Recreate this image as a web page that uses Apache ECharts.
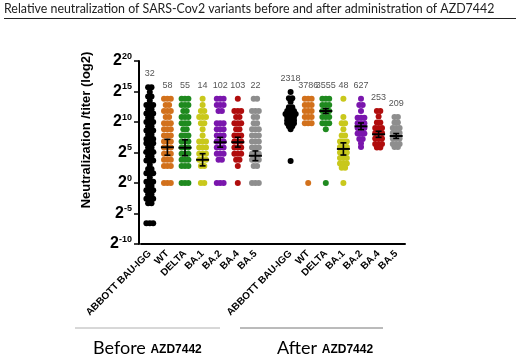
<!DOCTYPE html>
<html>
<head>
<meta charset="utf-8">
<script src="https://cdn.jsdelivr.net/npm/echarts@6/dist/echarts.min.js"></script>
<style>
  html, body { margin: 0; padding: 0; background: #fff; }
  #chart { width: 520px; height: 355px; }
</style>
</head>
<body>
<div id="chart"></div>
<script>
// categories (index 7 is the empty gap between groups)
const categories = ['ABBOTT BAU-IGG', 'WT', 'DELTA', 'BA.1', 'BA.2', 'BA.4', 'BA.5', '',
    'ABBOTT BAU-IGG', 'WT', 'DELTA', 'BA.1', 'BA.2', 'BA.4', 'BA.5'];

// geometric mean titers shown above each column
const gmtLabels = [32, 58, 55, 14, 102, 103, 22, null, 2318, 3786, 3555, 48, 627, 253, 209];
// half-height of error bars (log2 units)
const semValues = [1.0, 1.3, 1.3, 1.0, 0.8, 0.8, 0.8, null, 0.5, null, 0.4, 1.0, 0.55, 0.5, 0.4];

// dots per column: [log2 level, number of dots at that level]
const beforeAbbott = [[15.7, 2], [14.9, 1], [14.2, 2], [13.5, 1], [12.8, 3], [12.1, 2], [11.4, 3], [10.7, 2],
    [10, 3], [9.3, 2], [8.6, 3], [7.9, 2], [7.2, 3], [6.5, 3], [5.8, 2], [5.1, 3], [4.4, 2], [3.7, 3], [3, 1],
    [2.3, 2], [1.6, 3], [0.9, 1], [0.2, 3], [-0.5, 2], [-1.2, 3], [-1.9, 2], [-2.6, 3], [-3.3, 2], [-6.6, 3]];
const beforeWT = [[13.8, 3], [12.8, 2], [11.8, 3], [10.8, 2], [9.8, 3], [8.8, 3], [7.8, 3], [6.8, 3], [5.8, 3],
    [4.8, 3], [3.8, 3], [2.8, 3], [0, 3]];
const beforeDelta = [[13.8, 3], [12.8, 3], [11.8, 2], [10.8, 3], [9.8, 3], [8.8, 2], [7.8, 3], [6.8, 3], [5.8, 3],
    [4.8, 3], [3.8, 3], [2.8, 3], [0, 3]];
const beforeBA1 = [[13.8, 1], [12.8, 1], [11.8, 2], [10.8, 3], [9.8, 2], [8.8, 1], [7.8, 1], [6.8, 3], [5.8, 3],
    [4.8, 3], [3.8, 3], [2.8, 2], [0, 2]];
const beforeBA2 = [[13.8, 3], [12.8, 3], [11.8, 2], [9.8, 3], [8.8, 3], [7.8, 3], [6.8, 3], [5.8, 3], [4.8, 3],
    [3.8, 2], [0, 3]];
const beforeBA4 = [[13.8, 1], [11.8, 3], [10.8, 2], [9.8, 3], [8.8, 2], [7.8, 3], [6.8, 3], [5.8, 3], [4.8, 3],
    [3.8, 2], [2.8, 1], [0, 1]];
const beforeBA5 = [[13.8, 2], [11.8, 3], [10.8, 2], [9.8, 2], [8.8, 3], [7.8, 3], [6.8, 3], [5.8, 3], [4.8, 3],
    [3.8, 3], [2.8, 2], [0, 3]];
const afterAbbott = [[14.9, 1], [13.9, 2], [13.3, 1], [12.4, 2], [11.8, 3], [11.3, 4], [10.8, 3], [10.3, 3],
    [9.8, 3], [9.3, 2], [8.8, 1], [3.6, 1]];
const afterWT = [[13.8, 3], [12.8, 3], [11.8, 3], [10.8, 3], [9.8, 3], [0, 1]];
const afterDelta = [[13.8, 3], [12.8, 3], [11.8, 3], [10.8, 3], [9.8, 3], [8.8, 1], [0, 1]];
const afterBA1 = [[13.8, 1], [10.8, 1], [9.8, 2], [8.8, 1], [7.8, 2], [6.8, 3], [5.9, 3], [5.0, 3], [4.1, 3],
    [3.2, 3], [2.5, 2], [0, 1]];
const afterBA2 = [[13.8, 1], [12.8, 2], [11.8, 1], [10.7, 3], [9.8, 3], [9.0, 3], [8.1, 3], [7.2, 2], [6.5, 1],
    [5.9, 1]];
const afterBA4 = [[11.8, 2], [10.9, 1], [9.9, 2], [9.0, 3], [8.2, 3], [7.3, 3], [6.4, 3], [5.8, 2]];
const afterBA5 = [[10.8, 2], [9.9, 2], [9.0, 3], [8.2, 3], [7.3, 3], [6.4, 3], [5.9, 2]];

const columns = [beforeAbbott, beforeWT, beforeDelta, beforeBA1, beforeBA2, beforeBA4, beforeBA5, [],
    afterAbbott, afterWT, afterDelta, afterBA1, afterBA2, afterBA4, afterBA5];

const palette = ['#000000', '#d2711c', '#1f8a1f', '#c9c81c', '#7a16ad', '#b00d0d', '#8e8e8e'];
const colColor = i => palette[i < 7 ? i : i - 8];

const DOT_R = 3;
const DOT_STEP = 3.4;

// flatten columns into dot items [col, level, slot, n]
const dotData = [];
columns.forEach((col, c) => {
    col.forEach(([lvl, n]) => {
        for (let k = 0; k < n; k++) dotData.push([c, lvl, k, n]);
    });
});

const barData = [];
const labelData = [];
gmtLabels.forEach((g, c) => {
    if (g == null) return;
    const top = Math.max(...columns[c].map(d => d[0]));
    labelData.push([c, top, g]);
    if (semValues[c] != null) barData.push([c, Math.log2(g), semValues[c]]);
});

function renderDot(params, api) {
    const p = api.coord([api.value(0), api.value(1)]);
    const off = (api.value(2) - (api.value(3) - 1) / 2) * DOT_STEP;
    return {
        type: 'circle',
        shape: { cx: p[0] + off, cy: p[1], r: DOT_R },
        style: { fill: colColor(api.value(0)) }
    };
}

function renderBar(params, api) {
    const c = api.value(0), m = api.value(1), s = api.value(2);
    const p = api.coord([c, m]);
    const hi = api.coord([c, m + s]);
    const lo = api.coord([c, m - s]);
    const st = { stroke: '#000', lineWidth: 1.6 };
    return {
        type: 'group',
        children: [
            { type: 'line', shape: { x1: p[0] - 6.5, y1: p[1], x2: p[0] + 6.5, y2: p[1] }, style: { stroke: '#000', lineWidth: 2 } },
            { type: 'line', shape: { x1: p[0], y1: hi[1], x2: p[0], y2: lo[1] }, style: st },
            { type: 'line', shape: { x1: p[0] - 3, y1: hi[1], x2: p[0] + 3, y2: hi[1] }, style: st },
            { type: 'line', shape: { x1: p[0] - 3, y1: lo[1], x2: p[0] + 3, y2: lo[1] }, style: st }
        ]
    };
}

function renderLabel(params, api) {
    const p = api.coord([api.value(0), api.value(1)]);
    return {
        type: 'text',
        x: p[0],
        y: p[1] - 9,
        style: {
            text: String(api.value(2)),
            textAlign: 'center',
            textVerticalAlign: 'bottom',
            fill: '#555',
            font: '9px "Liberation Sans", Arial, sans-serif'
        }
    };
}

const chart = echarts.init(document.getElementById('chart'), null, { renderer: 'canvas' });

const bottomRich = {
    a: { fontSize: 18, fontFamily: 'Lato, sans-serif', color: '#111', lineHeight: 20, verticalAlign: 'bottom' },
    c: { fontSize: 12, fontWeight: 'bold', fontFamily: '"Liberation Sans", Arial, sans-serif', color: '#111',
        lineHeight: 20, verticalAlign: 'bottom', padding: [0, 0, 1, 0] }
};

const option = {
    animation: false,
    backgroundColor: '#fff',
    textStyle: { fontFamily: '"Liberation Sans", Arial, sans-serif' },
    grid: { left: 141, right: 115, top: 61, bottom: 111 },
    xAxis: {
        type: 'category',
        data: categories,
        axisLine: { onZero: false, lineStyle: { color: '#000', width: 2 } },
        axisTick: { alignWithLabel: true, length: 5, lineStyle: { color: '#000', width: 1.5 } },
        axisLabel: { interval: 0, rotate: 45, color: '#000', fontSize: 10, fontWeight: 'bold', margin: 8 },
        splitLine: { show: false }
    },
    yAxis: {
        type: 'value',
        min: -10,
        max: 20,
        interval: 5,
        offset: 2,
        axisLine: { show: true, lineStyle: { color: '#000', width: 2 } },
        axisTick: { show: true, length: 5, lineStyle: { color: '#000', width: 1.5 } },
        splitLine: { show: false },
        axisLabel: {
            margin: 7,
            formatter: v => '{b|2}{s|' + v + '}',
            rich: {
                b: { fontSize: 16, fontWeight: 'bold', color: '#000', lineHeight: 18 },
                s: { fontSize: 9, fontWeight: 'bold', color: '#000', verticalAlign: 'top', lineHeight: 18, padding: [0, 0, 7, 0] }
            }
        }
    },
    graphic: [
        {
            type: 'text', left: 4, top: 3,
            style: {
                text: 'Relative neutralization of SARS-Cov2 variants before and after administration of AZD7442',
                fill: '#222', font: '12.4px Lato, sans-serif'
            }
        },
        { type: 'line', shape: { x1: 4, y1: 18.5, x2: 516, y2: 18.5 }, style: { stroke: '#222', lineWidth: 1 } },
        {
            type: 'text', x: 86, y: 130, rotation: Math.PI / 2,
            style: {
                text: 'Neutralization /titer (log2)', textAlign: 'center', textVerticalAlign: 'middle',
                fill: '#000', font: 'bold 13px "Liberation Sans", Arial, sans-serif'
            }
        },
        { type: 'line', shape: { x1: 75, y1: 328, x2: 220, y2: 328 }, style: { stroke: '#b0b0b0', lineWidth: 1 } },
        { type: 'line', shape: { x1: 240, y1: 328, x2: 383, y2: 328 }, style: { stroke: '#777', lineWidth: 1 } },
        {
            type: 'text', x: 93, y: 347,
            style: { text: '{a|Before }{c|AZD7442}', textVerticalAlign: 'middle', rich: bottomRich }
        },
        {
            type: 'text', x: 277, y: 347,
            style: { text: '{a|After }{c|AZD7442}', textVerticalAlign: 'middle', rich: bottomRich }
        }
    ],
    series: [
        { type: 'custom', name: 'dots', renderItem: renderDot, data: dotData, clip: false, z: 2 },
        { type: 'custom', name: 'mean', renderItem: renderBar, data: barData, clip: false, z: 3 },
        { type: 'custom', name: 'gmt', renderItem: renderLabel, data: labelData, clip: false, z: 4 }
    ]
};

chart.setOption(option);
</script>
</body>
</html>
